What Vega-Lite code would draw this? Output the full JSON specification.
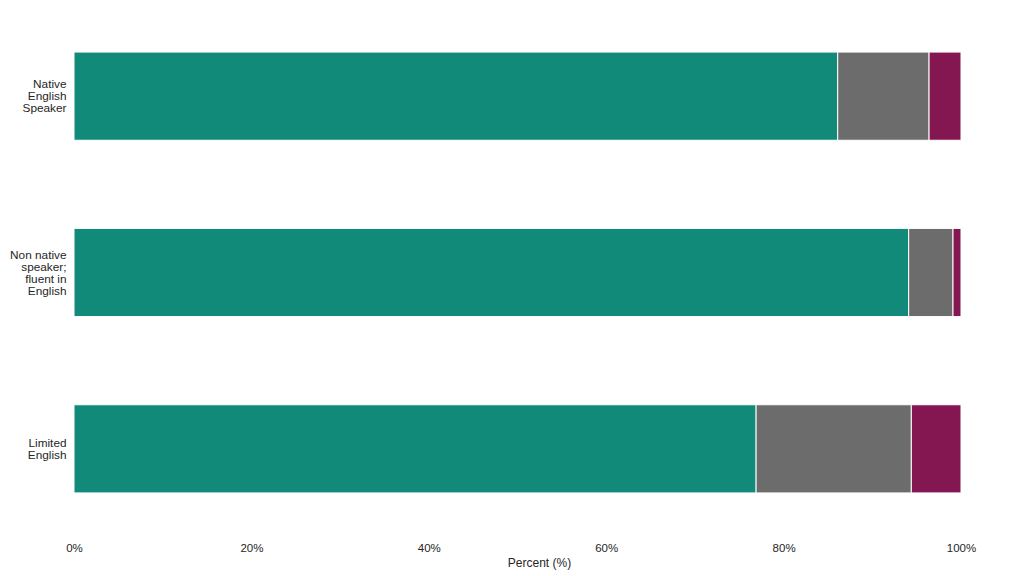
{
  "$schema": "https://vega.github.io/schema/vega-lite/v6.json",
  "autosize": {"type": "none"},
  "width": 887,
  "height": 529,
  "padding": {"left": 74, "top": 8, "right": 52, "bottom": 39},
  "background": "white",
  "config": {
    "view": {"stroke": null},
    "font": "Liberation Sans"
  },
  "data": {
    "values": [
      {"group": "Native English Speaker", "response": "Category 1", "rank": 1, "percent": 86.1},
      {"group": "Native English Speaker", "response": "Category 2", "rank": 2, "percent": 10.3},
      {"group": "Native English Speaker", "response": "Category 3", "rank": 3, "percent": 3.6},
      {"group": "Non native speaker; fluent in English", "response": "Category 1", "rank": 1, "percent": 94.1},
      {"group": "Non native speaker; fluent in English", "response": "Category 2", "rank": 2, "percent": 5.0},
      {"group": "Non native speaker; fluent in English", "response": "Category 3", "rank": 3, "percent": 0.9},
      {"group": "Limited English", "response": "Category 1", "rank": 1, "percent": 76.9},
      {"group": "Limited English", "response": "Category 2", "rank": 2, "percent": 17.5},
      {"group": "Limited English", "response": "Category 3", "rank": 3, "percent": 5.6}
    ]
  },
  "mark": {"type": "bar", "stroke": "white", "strokeWidth": 1},
  "encoding": {
    "y": {
      "field": "group",
      "type": "nominal",
      "sort": ["Native English Speaker", "Non native speaker; fluent in English", "Limited English"],
      "scale": {"paddingInner": 0.5, "paddingOuter": 0.25},
      "axis": {
        "title": null,
        "domain": false,
        "ticks": false,
        "labelPadding": 8,
        "labelFontSize": 11.8,
        "labelColor": "#262626",
        "labelLineHeight": 12,
        "labelOffset": {
          "condition": [
            {"test": "datum.value == 'Native English Speaker'", "value": -12},
            {"test": "datum.value == 'Limited English'", "value": -6}
          ],
          "value": -18
        },
        "labelExpr": "datum.value == 'Native English Speaker' ? ['Native', 'English', 'Speaker'] : datum.value == 'Limited English' ? ['Limited', 'English'] : ['Non native', 'speaker;', 'fluent in', 'English']"
      }
    },
    "x": {
      "field": "percent",
      "type": "quantitative",
      "stack": "zero",
      "scale": {"domain": [0, 100], "nice": false},
      "axis": {
        "title": "Percent (%)",
        "values": [0, 20, 40, 60, 80, 100],
        "labelExpr": "datum.value + '%'",
        "labelFlush": false,
        "grid": false,
        "domain": false,
        "ticks": false,
        "labelPadding": 5,
        "labelFontSize": 11.5,
        "labelColor": "#262626",
        "titleFontSize": 12,
        "titleFontWeight": "normal",
        "titleColor": "#262626",
        "titlePadding": 4,
        "titleX": 465,
        "titleAlign": "center"
      }
    },
    "color": {
      "field": "response",
      "type": "nominal",
      "scale": {"domain": ["Category 1", "Category 2", "Category 3"], "range": ["#128A7A", "#6C6C6C", "#841752"]},
      "legend": null
    },
    "order": {"field": "rank", "type": "quantitative"}
  }
}
